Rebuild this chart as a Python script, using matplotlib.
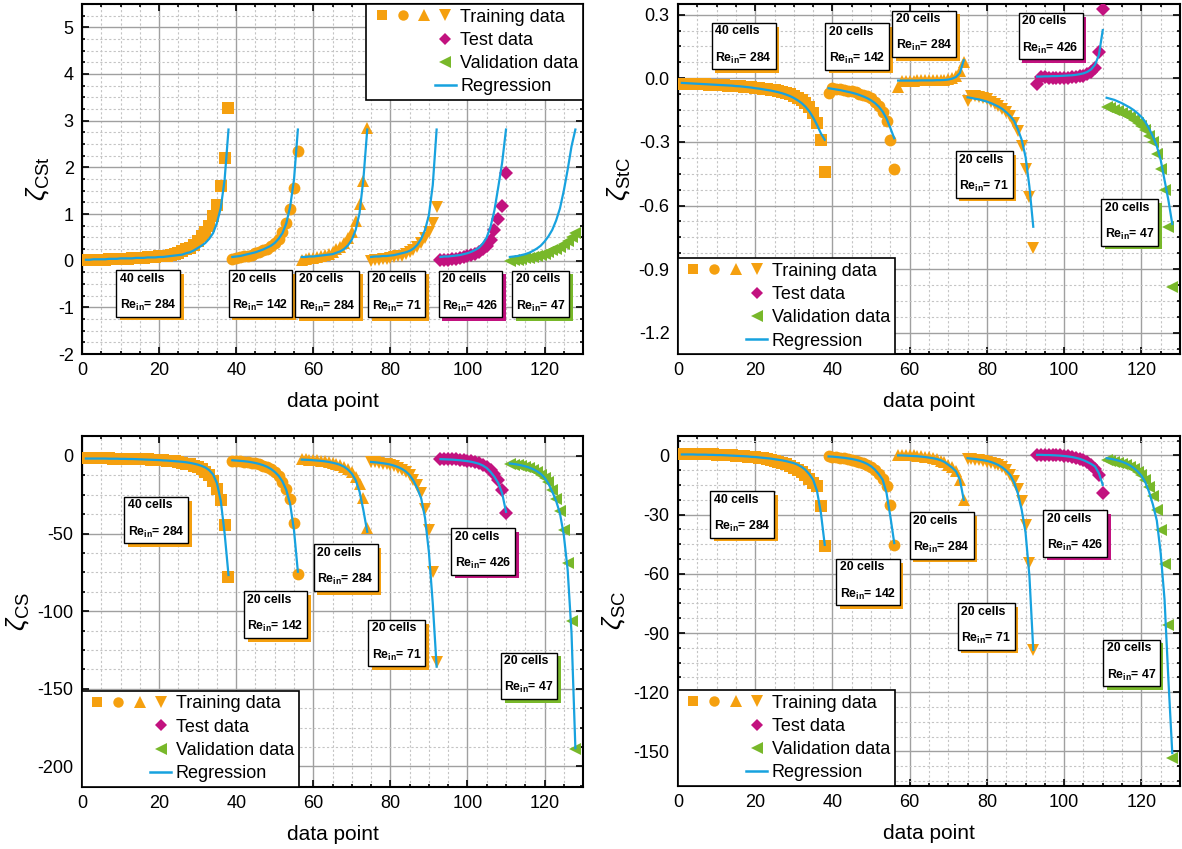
import numpy as np
import matplotlib
matplotlib.use('Agg')
import matplotlib.pyplot as plt
from matplotlib.lines import Line2D
from matplotlib.legend_handler import HandlerTuple
from matplotlib.ticker import MultipleLocator, FormatStrFormatter
import matplotlib.patheffects as pe

plt.rcParams['font.family'] = ['Liberation Sans', 'DejaVu Sans']
plt.rcParams['mathtext.fontset'] = 'custom'
plt.rcParams['mathtext.rm'] = 'Liberation Sans'
plt.rcParams['mathtext.it'] = 'Liberation Sans:italic'
plt.rcParams['mathtext.bf'] = 'Liberation Sans:bold'
plt.rcParams['axes.unicode_minus'] = False

# ---- data ----
group_sizes = [38, 18, 18, 18, 18, 18]
box_cells = ['40 cells', '20 cells', '20 cells', '20 cells', '20 cells', '20 cells']
box_re = ['284', '142', '284', '71', '426', '47']
legend_labels = ['Training data', 'Test data', 'Validation data', 'Regression']

cst_data = [0.01, 0.01, 0.01, 0.02, 0.02, 0.02, 0.03, 0.03, 0.03, 0.04,
            0.04, 0.04, 0.05, 0.05, 0.06, 0.06, 0.07, 0.07, 0.08, 0.09,
            0.10, 0.11, 0.13, 0.15, 0.17, 0.20, 0.24, 0.28, 0.34, 0.42,
            0.52, 0.62, 0.75, 0.95, 1.20, 1.60, 2.21, 3.27,
            0.03, 0.05, 0.07, 0.09, 0.11, 0.13, 0.16, 0.19, 0.22, 0.26, 0.31, 0.37, 0.47, 0.62, 0.81, 1.10, 1.55, 2.34,
            0.02, 0.03, 0.05, 0.06, 0.08, 0.10, 0.12, 0.15, 0.19, 0.24, 0.30, 0.38, 0.48, 0.62, 0.84, 1.21, 1.71, 2.85,
            0.00, 0.01, 0.02, 0.03, 0.04, 0.05, 0.07, 0.09, 0.11, 0.14, 0.18, 0.23, 0.29, 0.37, 0.48, 0.62, 0.81, 1.14,
            0.01, 0.02, 0.02, 0.03, 0.04, 0.06, 0.08, 0.10, 0.12, 0.15, 0.19, 0.24, 0.32, 0.45, 0.65, 0.89, 1.17, 1.88,
            0.00, 0.01, 0.02, 0.03, 0.05, 0.06, 0.08, 0.10, 0.12, 0.15, 0.18, 0.22, 0.26, 0.30, 0.36, 0.42, 0.50, 0.60]
cst_reg = [0.02, 0.02, 0.03, 0.03, 0.03, 0.03, 0.04, 0.04, 0.04, 0.05,
           0.05, 0.05, 0.05, 0.06, 0.06, 0.06, 0.07, 0.07, 0.07, 0.08,
           0.08, 0.09, 0.10, 0.11, 0.12, 0.13, 0.16, 0.18, 0.22, 0.27,
           0.32, 0.38, 0.47, 0.59, 0.81, 1.13, 1.74, 2.81,
           0.08, 0.09, 0.10, 0.12, 0.14, 0.16, 0.18, 0.21, 0.24, 0.28, 0.32, 0.38, 0.47, 0.59, 0.80, 1.16, 1.74, 2.81,
           0.08, 0.08, 0.09, 0.09, 0.10, 0.11, 0.12, 0.13, 0.14, 0.17, 0.20, 0.25, 0.33, 0.45, 0.66, 1.02, 1.75, 2.81,
           0.08, 0.09, 0.09, 0.10, 0.10, 0.11, 0.12, 0.14, 0.16, 0.18, 0.21, 0.26, 0.34, 0.47, 0.66, 0.98, 1.62, 2.81,
           0.08, 0.09, 0.09, 0.10, 0.11, 0.12, 0.14, 0.16, 0.19, 0.23, 0.28, 0.37, 0.50, 0.73, 1.08, 1.58, 2.10, 2.81,
           0.08, 0.09, 0.10, 0.12, 0.14, 0.17, 0.21, 0.26, 0.32, 0.41, 0.52, 0.66, 0.86, 1.12, 1.50, 1.95, 2.45, 2.81]

stc_data = [-0.025, -0.025, -0.026, -0.027, -0.027, -0.028, -0.029, -0.030, -0.031, -0.032,
            -0.033, -0.034, -0.035, -0.036, -0.037, -0.038, -0.040, -0.041, -0.043, -0.045,
            -0.047, -0.049, -0.051, -0.054, -0.057, -0.060, -0.064, -0.069, -0.075, -0.082,
            -0.091, -0.102, -0.117, -0.137, -0.165, -0.21, -0.29, -0.44,
            -0.068, -0.045, -0.050, -0.052, -0.055, -0.058, -0.062, -0.066, -0.072, -0.078, -0.085, -0.095, -0.11, -0.13, -0.16, -0.20, -0.29, -0.43,
            -0.04, -0.012, -0.012, -0.011, -0.011, -0.010, -0.010, -0.009, -0.009, -0.008, -0.008, -0.007, -0.006, -0.004, 0.000, 0.010, 0.035, 0.078,
            -0.105, -0.085, -0.085, -0.09, -0.095, -0.10, -0.11, -0.12, -0.13, -0.145, -0.16, -0.18, -0.21, -0.25, -0.32, -0.43, -0.56, -0.80,
            -0.027, 0.005, 0.004, 0.003, 0.002, 0.002, 0.002, 0.002, 0.003, 0.004, 0.006, 0.009, 0.012, 0.018, 0.028, 0.047, 0.126, 0.327,
            -0.137, -0.14, -0.148, -0.155, -0.165, -0.175, -0.185, -0.195, -0.21, -0.225, -0.245, -0.27, -0.30, -0.357, -0.426, -0.526, -0.70, -0.986]
stc_reg = [-0.022, -0.023, -0.024, -0.025, -0.026, -0.027, -0.028, -0.029, -0.030, -0.031,
           -0.032, -0.033, -0.034, -0.035, -0.037, -0.038, -0.040, -0.042, -0.044, -0.047,
           -0.049, -0.052, -0.055, -0.058, -0.062, -0.066, -0.071, -0.077, -0.084, -0.093,
           -0.104, -0.117, -0.134, -0.156, -0.185, -0.22, -0.26, -0.29,
           -0.047, -0.050, -0.053, -0.056, -0.060, -0.064, -0.068, -0.073, -0.079, -0.086, -0.094, -0.104, -0.117, -0.134, -0.157, -0.19, -0.235, -0.283,
           -0.011, -0.011, -0.011, -0.011, -0.011, -0.011, -0.010, -0.010, -0.010, -0.010, -0.009, -0.009, -0.008, -0.006, -0.002, 0.006, 0.025, 0.085,
           -0.09, -0.093, -0.097, -0.10, -0.105, -0.11, -0.117, -0.125, -0.134, -0.145, -0.16, -0.178, -0.20, -0.24, -0.29, -0.37, -0.51, -0.70,
           0.008, 0.008, 0.009, 0.009, 0.010, 0.010, 0.011, 0.012, 0.013, 0.014, 0.016, 0.019, 0.023, 0.030, 0.042, 0.064, 0.11, 0.227,
           -0.092, -0.097, -0.102, -0.11, -0.118, -0.128, -0.138, -0.15, -0.165, -0.182, -0.205, -0.237, -0.275, -0.32, -0.385, -0.48, -0.575, -0.687]

cs_data = [-1.5, -1.5, -1.5, -1.5, -1.6, -1.6, -1.6, -1.7, -1.7, -1.8,
           -1.8, -1.9, -2.0, -2.0, -2.1, -2.2, -2.3, -2.4, -2.6, -2.7,
           -2.9, -3.1, -3.3, -3.6, -4.0, -4.4, -4.9, -5.5, -6.3, -7.3,
           -8.6, -10.3, -12.6, -16.0, -21.0, -28.5, -44.6, -77.8,
           -3.2, -3.3, -3.5, -3.7, -4.0, -4.3, -4.8, -5.4, -6.2, -7.3, -8.7, -10.6, -13.2, -16.5, -21.0, -28.0, -43.0, -76.0,
           -2.0, -2.2, -2.4, -2.6, -2.9, -3.2, -3.6, -4.1, -4.6, -5.2, -5.9, -7.0, -8.5, -10.5, -13.5, -18.0, -27.4, -46.7,
           -4.0, -4.2, -4.5, -4.9, -5.4, -6.0, -6.8, -7.8, -9.0, -10.6, -12.6, -15.4, -19.0, -24.2, -33.9, -47.8, -74.6, -132.5,
           -1.7, -1.8, -1.9, -2.0, -2.2, -2.4, -2.7, -3.0, -3.4, -4.0, -4.7, -5.6, -6.9, -8.8, -11.8, -15.6, -22.0, -37.0,
           -5.4, -5.7, -6.1, -6.6, -7.2, -8.0, -9.0, -10.3, -12.0, -14.2, -17.0, -22.0, -28.0, -35.4, -47.8, -68.8, -106.3, -188.9]
cs_reg = [-1.7, -1.7, -1.7, -1.7, -1.7, -1.7, -1.8, -1.8, -1.8, -1.9,
          -1.9, -2.0, -2.0, -2.1, -2.2, -2.3, -2.4, -2.5, -2.6, -2.7,
          -2.9, -3.0, -3.2, -3.4, -3.6, -3.8, -4.1, -4.5, -5.0, -5.6,
          -6.4, -7.5, -9.2, -12.0, -17.5, -29.0, -50.0, -76.7,
          -2.8, -3.0, -3.2, -3.4, -3.7, -4.1, -4.6, -5.2, -6.0, -7.0, -8.4, -10.3, -12.8, -16.4, -22.0, -31.0, -48.0, -74.6,
          -2.4, -2.5, -2.6, -2.8, -3.0, -3.2, -3.5, -3.9, -4.4, -5.0, -5.8, -7.0, -8.8, -11.4, -15.6, -23.0, -35.0, -48.9,
          -3.9, -4.1, -4.4, -4.7, -5.1, -5.6, -6.3, -7.2, -8.4, -10.0, -12.4, -16.0, -21.0, -27.4, -40.0, -62.0, -95.0, -135.7,
          -2.1, -2.2, -2.3, -2.4, -2.6, -2.8, -3.1, -3.4, -3.8, -4.4, -5.1, -6.2, -7.8, -10.3, -13.5, -17.5, -24.0, -36.0,
          -4.9, -5.2, -5.6, -6.1, -6.7, -7.5, -8.5, -9.8, -11.5, -14.0, -17.8, -23.0, -29.0, -37.0, -51.0, -73.5, -114.0, -188.2]

sc_data = [0.8, 0.8, 0.8, 0.7, 0.7, 0.6, 0.6, 0.5, 0.5, 0.4,
           0.3, 0.2, 0.1, 0.0, -0.1, -0.2, -0.4, -0.6, -0.8, -1.0,
           -1.2, -1.5, -1.8, -2.2, -2.6, -3.1, -3.7, -4.4, -5.2, -6.2,
           -7.3, -8.6, -10.1, -12.0, -13.8, -15.7, -25.5, -45.8,
           -0.5, -0.7, -0.9, -1.1, -1.4, -1.7, -2.1, -2.6, -3.2, -3.9, -4.8, -5.9, -7.3, -9.2, -12.0, -15.7, -25.0, -45.3,
           0.3, 0.3, 0.2, 0.1, 0.0, -0.2, -0.4, -0.7, -1.0, -1.4, -1.9, -2.6, -3.5, -4.7, -6.0, -7.8, -12.3, -22.5,
           -1.9, -2.0, -2.2, -2.4, -2.7, -3.1, -3.6, -4.2, -5.0, -6.1, -7.6, -9.8, -13.2, -17.0, -23.3, -35.1, -54.6, -98.5,
           0.3, 0.3, 0.3, 0.2, 0.2, 0.1, 0.0, -0.2, -0.4, -0.7, -1.1, -1.6, -2.3, -3.3, -4.8, -7.0, -9.8, -18.8,
           -2.5, -2.8, -3.1, -3.6, -4.2, -4.9, -5.7, -6.8, -8.2, -10.0, -12.5, -16.0, -20.8, -27.5, -37.7, -54.9, -86.1, -153.4]
sc_reg = [0.5, 0.5, 0.5, 0.5, 0.4, 0.4, 0.4, 0.3, 0.3, 0.2,
          0.2, 0.1, 0.0, -0.1, -0.2, -0.3, -0.4, -0.5, -0.7, -0.8,
          -1.0, -1.2, -1.4, -1.6, -1.9, -2.2, -2.5, -2.9, -3.4, -3.9,
          -4.7, -5.8, -7.3, -9.5, -12.3, -18.0, -29.0, -45.3,
          -0.5, -0.6, -0.8, -1.0, -1.2, -1.5, -1.8, -2.2, -2.7, -3.4, -4.3, -5.5, -7.2, -9.5, -12.3, -19.0, -31.0, -44.4,
          0.0, 0.0, -0.1, -0.2, -0.3, -0.4, -0.6, -0.8, -1.1, -1.4, -1.8, -2.4, -3.3, -4.7, -6.2, -8.1, -12.3, -22.5,
          -1.4, -1.6, -1.8, -2.1, -2.4, -2.8, -3.3, -4.0, -4.9, -6.1, -7.7, -9.8, -13.5, -19.1, -27.5, -39.0, -61.0, -98.5,
          0.3, 0.3, 0.2, 0.2, 0.1, 0.0, -0.1, -0.3, -0.5, -0.8, -1.2, -1.7, -2.4, -3.3, -4.3, -5.6, -9.0, -14.9,
          -1.4, -1.7, -2.1, -2.6, -3.2, -4.0, -5.0, -6.3, -8.0, -10.2, -13.5, -18.5, -25.0, -33.0, -49.5, -73.0, -113.7, -150.8]

# ---- styling ----
orange = '#F5A00F'
magenta = '#C2127F'
green = '#78B82A'
blue = '#17A2DF'
group_colors = [orange, orange, orange, orange, magenta, green]
group_markers = ['s', 'o', '^', 'v', 'D', '<']
marker_sizes = [8, 8.5, 9, 9, 7, 9]

panels = [
    dict(rect=[0.0694, 0.5830, 0.4239, 0.4123], data=cst_data, reg=cst_reg,
         ylabel=r'$\zeta_{\rm CSt}$', ylim=(-2, 5.5), major=1, fmt='%d',
         leg='upper right',
         boxes=[(17.1, -0.69), (46.3, -0.69), (63.6, -0.70), (81.6, -0.70), (100.8, -0.70), (119.0, -0.70)]),
    dict(rect=[0.5736, 0.5830, 0.4247, 0.4123], data=stc_data, reg=stc_reg,
         ylabel=r'$\zeta_{\rm StC}$', ylim=(-1.3, 0.35), major=0.3, fmt='%.1f',
         leg='lower left',
         boxes=[(17.0, 0.154), (46.4, 0.153), (63.7, 0.212), (79.3, -0.451), (96.5, 0.201), (117.0, -0.677)]),
    dict(rect=[0.0694, 0.0734, 0.4239, 0.4134], data=cs_data, reg=cs_reg,
         ylabel=r'$\zeta_{\rm CS}$', ylim=(-213, 13), major=50, fmt='%d',
         leg='lower left',
         boxes=[(19.3, -41), (50.2, -101.9), (68.4, -71.5), (81.6, -120.2), (104.0, -61.1), (116.0, -141.3)]),
    dict(rect=[0.5736, 0.0742, 0.4247, 0.4126], data=sc_data, reg=sc_reg,
         ylabel=r'$\zeta_{\rm SC}$', ylim=(-167.5, 10), major=30, fmt='%d',
         leg='lower left',
         boxes=[(16.7, -29.6), (49.2, -63.9), (68.3, -40.2), (79.8, -86.3), (102.9, -39.2), (117.4, -104.9)]),
]

x = np.arange(1, sum(group_sizes) + 1)
edges = np.cumsum([0] + group_sizes)

fig = plt.figure(figsize=(11.82, 8.49), dpi=100)

blank = Line2D([], [], linestyle='none')
train_h = tuple(Line2D([], [], linestyle='none', marker=m, ms=s, mew=0, color=orange)
                for m, s in zip(group_markers[:4], [7, 7.5, 8, 8]))
test_h = (blank, blank, blank, Line2D([], [], linestyle='none', marker='D', ms=6.5, mew=0, color=magenta))
val_h = (blank, blank, blank, Line2D([], [], linestyle='none', marker='<', ms=8, mew=0, color=green))
reg_h = (blank, blank, blank, Line2D([], [], color=blue, lw=1.8))

for p in panels:
    ax = fig.add_axes(p['rect'])
    data = np.array(p['data'])
    reg = np.array(p['reg'])
    for i in range(len(group_sizes)):
        s = slice(edges[i], edges[i + 1])
        ax.plot(x[s], data[s], linestyle='none', marker=group_markers[i],
                ms=marker_sizes[i], mew=0, color=group_colors[i], zorder=3)
    for i in range(len(group_sizes)):
        s = slice(edges[i], edges[i + 1])
        ax.plot(x[s], reg[s], color=blue, lw=1.6, zorder=4)

    ax.set_xlim(0, 130)
    ax.set_ylim(*p['ylim'])
    ax.xaxis.set_major_locator(MultipleLocator(20))
    ax.xaxis.set_minor_locator(MultipleLocator(5))
    ax.yaxis.set_major_locator(MultipleLocator(p['major']))
    ax.yaxis.set_minor_locator(MultipleLocator(p['major'] / 4))
    ax.yaxis.set_major_formatter(FormatStrFormatter(p['fmt']))
    ax.tick_params(which='both', direction='in', top=True, right=True, labelsize=13, width=1.2)
    ax.tick_params(which='major', length=5, pad=6)
    ax.tick_params(which='minor', length=2.5)
    ax.grid(which='major', color='#a0a0a0', lw=1.0)
    ax.grid(which='minor', color='#c4c4c4', lw=0.8, linestyle=(0, (2, 2)))
    ax.set_axisbelow(True)
    for sp in ax.spines.values():
        sp.set_linewidth(1.5)
    ax.set_xlabel('data point', fontsize=15, labelpad=9)
    ax.set_ylabel(p['ylabel'], fontsize=19, labelpad=4)

    for i, (bx, by) in enumerate(p['boxes']):
        t = ax.text(bx, by, box_cells[i] + '\nRe$_\\mathbf{in}$= ' + box_re[i],
                    fontsize=8.8, fontweight='bold', ha='center', va='center',
                    multialignment='left', linespacing=2.2, zorder=6,
                    bbox=dict(boxstyle='square,pad=0.3', fc='white', ec='black', lw=1.0))
        t.get_bbox_patch().set_path_effects(
            [pe.withSimplePatchShadow(offset=(2.7, -2.7), shadow_rgbFace=group_colors[i], alpha=1.0)])

    leg = ax.legend([train_h, test_h, val_h, reg_h], legend_labels, loc=p['leg'],
                    handler_map={tuple: HandlerTuple(ndivide=None, pad=0.0)},
                    handlelength=4.7, handletextpad=0.25, borderpad=0.25,
                    labelspacing=0.35, borderaxespad=0, fontsize=13,
                    fancybox=False, framealpha=1, edgecolor='black')
    leg.get_frame().set_linewidth(1.2)
    leg.set_zorder(10)

fig.savefig('out.png', dpi=100)
